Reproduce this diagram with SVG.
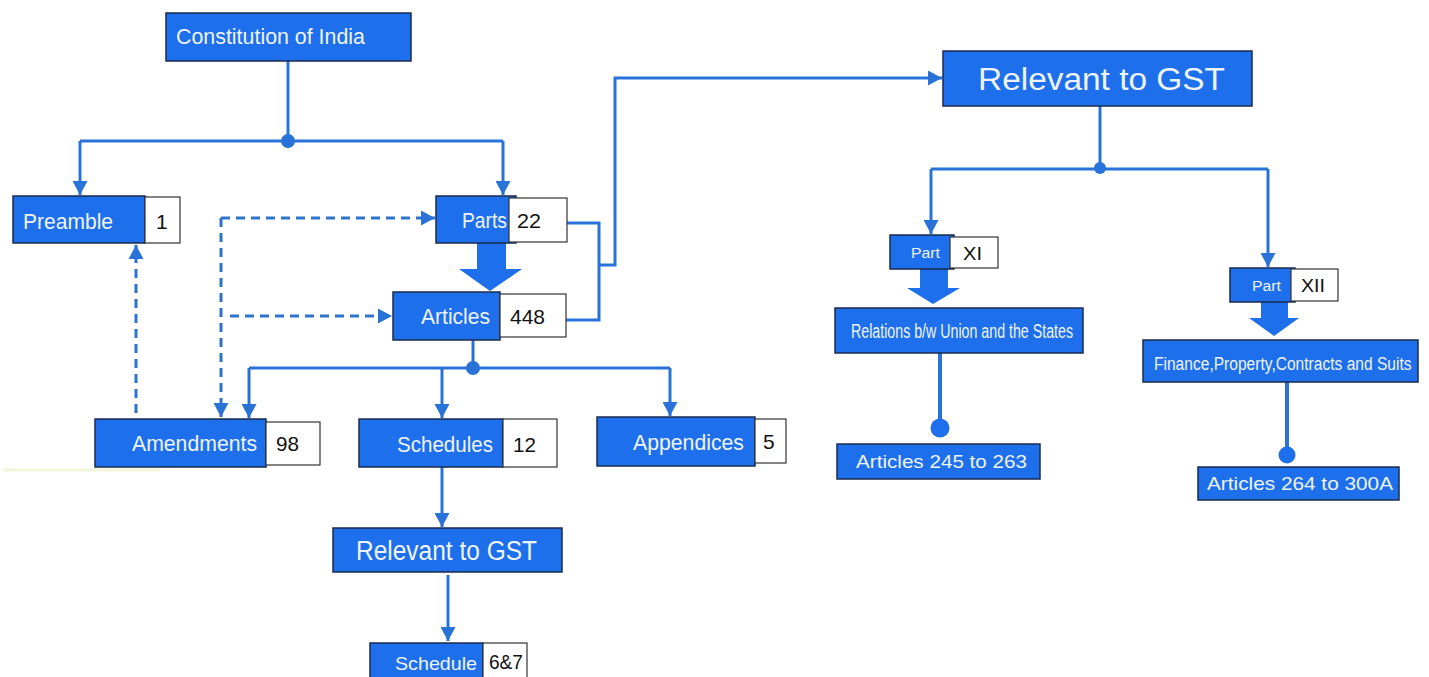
<svg xmlns="http://www.w3.org/2000/svg" width="1429" height="677" viewBox="0 0 1429 677">
<defs>
<marker id="ah" viewBox="0 0 14 15" refX="14" refY="7.5" markerWidth="14" markerHeight="15" markerUnits="userSpaceOnUse" orient="auto">
<path d="M0,0 L14,7.5 L0,15 Z" fill="#2872D8"/>
</marker>
<style>
.b{fill:#1E6FEB;stroke:#1a2b4d;stroke-width:1.5}
.w{fill:#ffffff;stroke:#333;stroke-width:1.2}
.ln{fill:none;stroke:#2872D8;stroke-width:3}
.ds{fill:none;stroke:#2E73CC;stroke-width:3;stroke-dasharray:9,6}
.bl{fill:#1E6FEB}
.t{font-family:"Liberation Sans",Arial,sans-serif;fill:#EEF4FF}
.n{font-family:"Liberation Sans",Arial,sans-serif;fill:#111}
</style>
</defs>
<rect width="1429" height="677" fill="#ffffff"/>
<line x1="3" y1="470" x2="160" y2="470" stroke="#f2f6d8" stroke-width="3"/>

<g id="connectors">
<path class="ln" d="M288,61 V141"/>
<path class="ln" d="M80,141 H503"/>
<path class="ln" d="M80,141 V195" marker-end="url(#ah)"/>
<path class="ln" d="M503,141 V195" marker-end="url(#ah)"/>
<circle cx="288" cy="141" r="7" fill="#2872D8"/>
<path class="ln" d="M567,223 H599 V320 H566"/>
<path class="ln" d="M599,265 H615 V78 H942" marker-end="url(#ah)"/>
<path class="ln" d="M473,340 V368"/>
<path class="ln" d="M249,368 H670"/>
<circle cx="473" cy="368" r="7" fill="#2872D8"/>
<path class="ln" d="M249,368 V418" marker-end="url(#ah)"/>
<path class="ln" d="M442,368 V418" marker-end="url(#ah)"/>
<path class="ln" d="M670,368 V416" marker-end="url(#ah)"/>
<path class="ds" d="M136,413 V245" marker-end="url(#ah)"/>
<path class="ds" d="M221,218 V417" marker-end="url(#ah)"/>
<path class="ds" d="M221,218 H435" marker-end="url(#ah)"/>
<path class="ds" d="M230,316 H392" marker-end="url(#ah)"/>
<path class="ln" d="M442,467 V527" marker-end="url(#ah)"/>
<path class="ln" d="M448,575 V641" marker-end="url(#ah)"/>
<path class="ln" d="M1100,106 V169"/>
<path class="ln" d="M931,169 H1268"/>
<circle cx="1100" cy="168" r="6" fill="#2872D8"/>
<path class="ln" d="M931,169 V234" marker-end="url(#ah)"/>
<path class="ln" d="M1268,169 V267" marker-end="url(#ah)"/>
<path class="bl" d="M477,240 H506 V269 H522 L490,291 L459,269 H477 Z"/>
<path class="bl" d="M920,268 H948 V288 H960 L933,304 L907,288 H920 Z"/>
<path class="bl" d="M1261,301 H1288 V318 H1299 L1274,336 L1249,318 H1261 Z"/>
<path class="ln" d="M940,353 V428" style="stroke-width:4"/>
<circle cx="940" cy="428" r="9.5" fill="#1E6FEB"/>
<path class="ln" d="M1287,382 V455" style="stroke-width:4"/>
<circle cx="1287" cy="455" r="8.5" fill="#1E6FEB"/>
</g>

<g id="constitution">
<rect class="b" x="166" y="13" width="245" height="48"/>
<text class="t" x="176" y="44" font-size="22" textLength="189" lengthAdjust="spacingAndGlyphs">Constitution of India</text>
</g>
<g id="preamble">
<rect class="b" x="13" y="196" width="132" height="47"/>
<rect class="w" x="145" y="197" width="35" height="46"/>
<text class="t" x="23" y="229" font-size="22" textLength="90" lengthAdjust="spacingAndGlyphs">Preamble</text>
<text class="n" x="156" y="229" font-size="21">1</text>
</g>
<g id="parts">
<rect class="b" x="436" y="196" width="80" height="47"/>
<rect class="w" x="509" y="198" width="58" height="44"/>
<text class="t" x="462" y="228" font-size="22" textLength="45" lengthAdjust="spacingAndGlyphs">Parts</text>
<text class="n" x="517" y="228" font-size="21" textLength="24" lengthAdjust="spacingAndGlyphs">22</text>
</g>
<g id="articles">
<rect class="b" x="393" y="292" width="107" height="48"/>
<rect class="w" x="500" y="294" width="66" height="43"/>
<text class="t" x="421" y="324" font-size="22" textLength="69" lengthAdjust="spacingAndGlyphs">Articles</text>
<text class="n" x="510" y="324" font-size="21" textLength="35" lengthAdjust="spacingAndGlyphs">448</text>
</g>
<g id="amendments">
<rect class="b" x="95" y="419" width="171" height="48"/>
<rect class="w" x="266" y="422" width="54" height="43"/>
<text class="t" x="132" y="451" font-size="22" textLength="125" lengthAdjust="spacingAndGlyphs">Amendments</text>
<text class="n" x="276" y="451" font-size="21" textLength="23" lengthAdjust="spacingAndGlyphs">98</text>
</g>
<g id="schedules">
<rect class="b" x="359" y="419" width="144" height="48"/>
<rect class="w" x="503" y="419" width="54" height="48"/>
<text class="t" x="397" y="452" font-size="22" textLength="96" lengthAdjust="spacingAndGlyphs">Schedules</text>
<text class="n" x="513" y="452" font-size="21" textLength="23" lengthAdjust="spacingAndGlyphs">12</text>
</g>
<g id="appendices">
<rect class="b" x="597" y="417" width="158" height="49"/>
<rect class="w" x="755" y="419" width="31" height="44"/>
<text class="t" x="633" y="450" font-size="22" textLength="111" lengthAdjust="spacingAndGlyphs">Appendices</text>
<text class="n" x="763" y="449" font-size="21">5</text>
</g>
<g id="relevant-schedules">
<rect class="b" x="333" y="528" width="229" height="44"/>
<text class="t" x="356" y="560" font-size="27" textLength="181" lengthAdjust="spacingAndGlyphs">Relevant to GST</text>
</g>
<g id="schedule-67">
<rect class="b" x="370" y="643" width="113" height="36"/>
<rect class="w" x="483" y="643" width="44" height="36"/>
<text class="t" x="395" y="670" font-size="19" textLength="82" lengthAdjust="spacingAndGlyphs">Schedule</text>
<text class="n" x="489" y="669" font-size="21" textLength="34" lengthAdjust="spacingAndGlyphs">6&amp;7</text>
</g>
<g id="relevant-parts">
<rect class="b" x="943" y="51" width="309" height="55"/>
<text class="t" x="978" y="90" font-size="31" textLength="247" lengthAdjust="spacingAndGlyphs">Relevant to GST</text>
</g>
<g id="part-xi">
<rect class="b" x="890" y="235" width="64" height="34"/>
<rect class="w" x="950" y="237" width="48" height="31"/>
<text class="t" x="911" y="258" font-size="14" textLength="29" lengthAdjust="spacingAndGlyphs">Part</text>
<text class="n" x="963" y="260" font-size="18" textLength="19" lengthAdjust="spacingAndGlyphs">XI</text>
</g>
<g id="relations">
<rect class="b" x="835" y="308" width="248" height="45"/>
<text class="t" x="851" y="338" font-size="20" textLength="222" lengthAdjust="spacingAndGlyphs">Relations b/w Union and the States</text>
</g>
<g id="articles-245">
<rect class="b" x="837" y="444" width="203" height="35"/>
<text class="t" x="856" y="468" font-size="19" textLength="171" lengthAdjust="spacingAndGlyphs">Articles 245 to 263</text>
</g>
<g id="part-xii">
<rect class="b" x="1230" y="268" width="65" height="34"/>
<rect class="w" x="1291" y="269" width="47" height="32"/>
<text class="t" x="1252" y="291" font-size="14" textLength="29" lengthAdjust="spacingAndGlyphs">Part</text>
<text class="n" x="1301" y="292" font-size="18" textLength="24" lengthAdjust="spacingAndGlyphs">XII</text>
</g>
<g id="finance">
<rect class="b" x="1143" y="340" width="275" height="42"/>
<text class="t" transform="translate(1154,370) scale(0.82,1)" x="0" y="0" font-size="19">Finance,Property,Contracts and Suits</text>
</g>
<g id="articles-264">
<rect class="b" x="1198" y="467" width="201" height="33"/>
<text class="t" x="1207" y="490" font-size="19" textLength="186" lengthAdjust="spacingAndGlyphs">Articles 264 to 300A</text>
</g>
</svg>
